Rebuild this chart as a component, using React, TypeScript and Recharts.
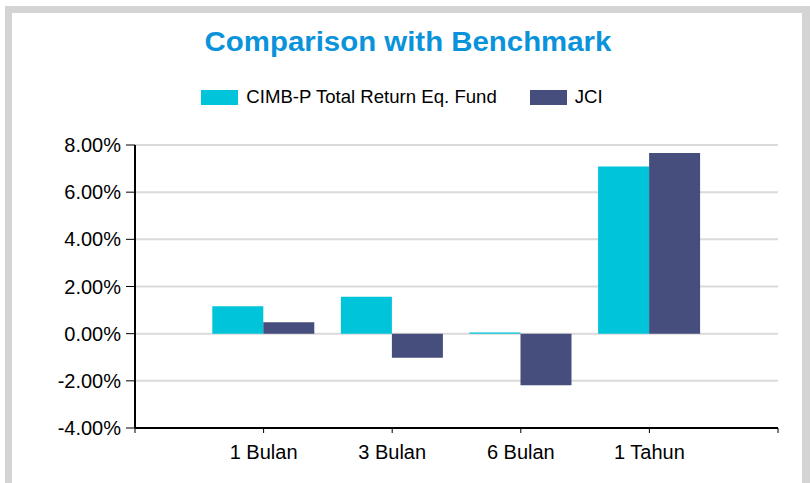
import React from 'react';
import { BarChart, Bar, XAxis, YAxis, CartesianGrid, Legend } from 'recharts';

const categories = ['1 Bulan', '3 Bulan', '6 Bulan', '1 Tahun'];
const fundValues = [1.16, 1.57, 0.05, 7.09];
const jciValues = [0.48, -1.02, -2.19, 7.66];
const yTicks = [-4, -2, 0, 2, 4, 6, 8];
const seriesNames = ['CIMB-P Total Return Eq. Fund', 'JCI'];
const seriesColors = ['#00C4D9', '#464E7D'];

const data = categories.map((c, i) => ({
  pos: i + 1,
  name: c,
  fund: fundValues[i],
  jci: jciValues[i],
}));
const xTicks = [0, ...categories.map((_, i) => i + 1), categories.length + 1];

const FONT = '"Liberation Sans", Arial, sans-serif';

const LegendContent = () => (
  <div style={{ display: 'flex', justifyContent: 'center', alignItems: 'center', fontFamily: FONT, fontSize: 18.6, color: '#000', paddingRight: 6 }}>
    {seriesNames.map((n, i) => (
      <div key={n} style={{ display: 'flex', alignItems: 'center', marginLeft: i === 0 ? 0 : 33 }}>
        <span style={{ display: 'inline-block', width: 37, height: 15, background: seriesColors[i], marginRight: 8 }} />
        <span>{n}</span>
      </div>
    ))}
  </div>
);

export default function App() {
  return (
    <div style={{ position: 'absolute', left: 0, top: 0, width: 810, height: 483, overflow: 'hidden', background: '#fff' }}>
      <div style={{ position: 'absolute', left: 5, top: 6, width: 790, height: 520, borderLeft: '7px solid #D4D4D4', borderTop: '7px solid #D4D4D4', borderRight: '8px solid #D4D4D4', background: '#fff' }} />
      <div style={{ position: 'absolute', left: 0, top: 26, width: 816, textAlign: 'center', fontFamily: FONT, fontWeight: 'bold', fontSize: 28, lineHeight: '32px', color: '#0A93DB', transform: 'scaleX(1.05)', transformOrigin: '408px 0' }}>
        Comparison with Benchmark
      </div>
      <div style={{ position: 'absolute', left: 0, top: 0 }}>
        <BarChart width={810} height={483} data={data} margin={{ top: 145, right: 32, left: 55, bottom: 15 }} barGap={0}>
          <CartesianGrid vertical={false} stroke="#DADADA" strokeWidth={2} />
          <XAxis
            type="number"
            dataKey="pos"
            domain={[0, categories.length + 1]}
            ticks={xTicks}
            interval={0}
            tickFormatter={(v: number) => categories[v - 1] ?? ''}
            axisLine={{ stroke: '#000', strokeWidth: 2 }}
            tickLine={{ stroke: '#000', strokeWidth: 1 }}
            tickSize={5}
            tickMargin={12}
            height={40}
            tick={{ fill: '#000', fontSize: 20, fontFamily: FONT }}
          />
          <YAxis
            domain={[-4, 8]}
            ticks={yTicks}
            interval={0}
            tickFormatter={(v: number) => `${v.toFixed(2)}%`}
            axisLine={{ stroke: '#000', strokeWidth: 2 }}
            tickLine={{ stroke: '#000', strokeWidth: 1 }}
            tickSize={9}
            tickMargin={5}
            width={80}
            tick={{ fill: '#000', fontSize: 20, fontFamily: FONT }}
          />
          <Legend
            layout="horizontal"
            verticalAlign="middle"
            align="center"
            content={<LegendContent />}
            wrapperStyle={{ top: 86, left: 0, width: 810 }}
          />
          <Bar dataKey="fund" name={seriesNames[0]} fill={seriesColors[0]} barSize={51} isAnimationActive={false} />
          <Bar dataKey="jci" name={seriesNames[1]} fill={seriesColors[1]} barSize={51} isAnimationActive={false} />
        </BarChart>
      </div>
    </div>
  );
}
